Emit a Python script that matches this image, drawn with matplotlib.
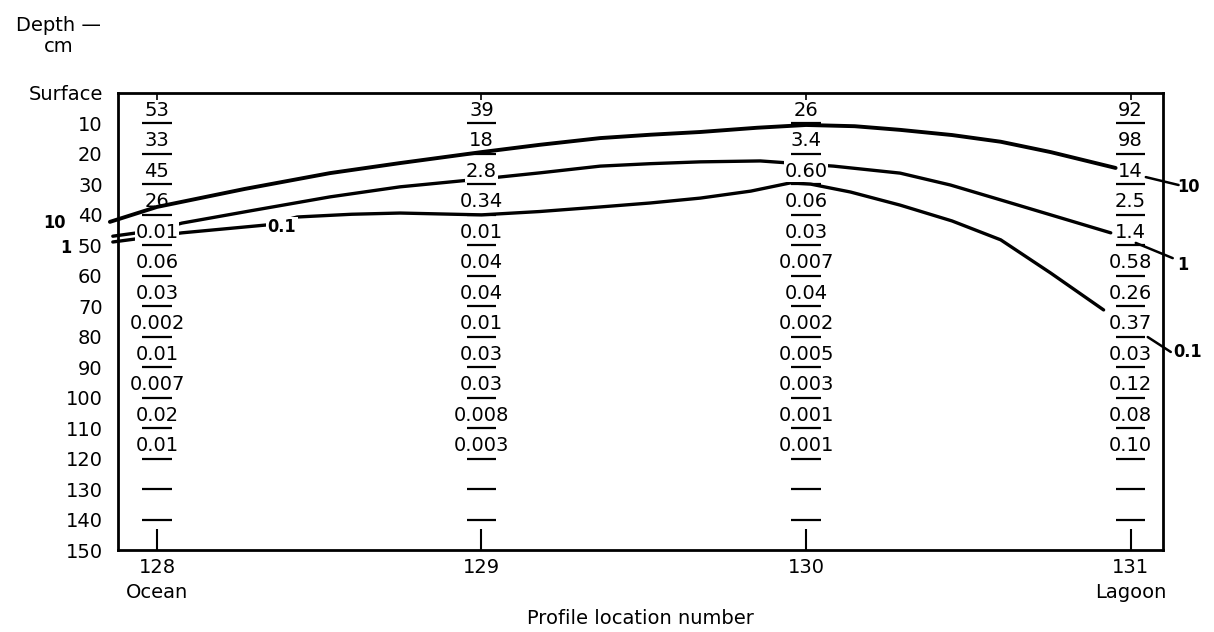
import matplotlib.pyplot as plt

# profile locations (x) and the lower edge of each 10 cm sampling interval
columns = [128, 129, 130, 131]
row_bottoms = [10, 20, 30, 40, 50, 60, 70, 80, 90, 100, 110, 120, 130, 140]

# values written in each 10 cm interval (empty = dash only)
values_128 = ["53", "33", "45", "26", "0.01", "0.06", "0.03", "0.002", "0.01", "0.007", "0.02", "0.01", "", ""]
values_129 = ["39", "18", "2.8", "0.34", "0.01", "0.04", "0.04", "0.01", "0.03", "0.03", "0.008", "0.003", "", ""]
values_130 = ["26", "3.4", "0.60", "0.06", "0.03", "0.007", "0.04", "0.002", "0.005", "0.003", "0.001", "0.001", "", ""]
values_131 = ["92", "98", "14", "2.5", "1.4", "0.58", "0.26", "0.37", "0.03", "0.12", "0.08", "0.10", "", ""]
all_values = [values_128, values_129, values_130, values_131]

# cells whose text interrupts a contour line (column, interval bottom)
masked_cells = [(128, 50), (129, 30), (130, 30)]

# isolines: x = profile location, depth in cm
c10_x = [127.855, 128.0, 128.27, 128.533, 128.749, 129.0, 129.18, 129.366, 129.52, 129.674, 129.85, 130.0,
         130.15, 130.29, 130.45, 130.6, 130.754, 130.954]
c10_depth = [42.3, 37.4, 31.5, 26.3, 23.0, 19.4, 17.0, 14.8, 13.7, 12.8, 11.4, 10.5,
             10.9, 12.1, 13.8, 16.0, 19.4, 24.6]

c1_x = [127.864, 128.0, 128.077, 128.287, 128.533, 128.749, 129.0, 129.181, 129.366, 129.52, 129.674, 129.859,
        130.085, 130.29, 130.445, 130.6, 130.754, 130.939]
c1_depth = [47.0, 45.0, 42.7, 38.7, 34.1, 30.8, 28.2, 26.2, 24.0, 23.2, 22.6, 22.3,
            24.0, 26.3, 30.2, 35.1, 40.0, 45.9]

c01_x = [127.864, 128.077, 128.339, 128.432, 128.6, 128.749, 129.0, 129.18, 129.366, 129.52, 129.674, 129.83,
         129.952, 130.014, 130.137, 130.29, 130.45, 130.6, 130.754, 130.917]
c01_depth = [48.9, 45.9, 43.3, 40.7, 39.8, 39.4, 40.0, 38.9, 37.4, 36.1, 34.5, 32.2,
             29.5, 29.9, 32.5, 36.8, 42.0, 48.2, 59.1, 71.2]

# leader lines from column 131 out to the isoline labels
leader_10_x = [131.047, 131.148]
leader_10_depth = [27.6, 30.2]
leader_1_x = [131.016, 131.13]
leader_1_depth = [49.2, 54.2]
leader_01_x = [131.053, 131.124]
leader_01_depth = [80.1, 85.0]

iso_labels = ["10", "1", "0.1", "10", "1", "0.1"]
iso_label_x = [127.719, 127.738, 128.385, 131.144, 131.144, 131.133]
iso_label_depth = [42.7, 50.9, 44.0, 30.8, 56.5, 85.0]
iso_label_ha = ["right", "right", "center", "left", "left", "left"]

depth_ticks = list(range(0, 151, 10))
depth_labels = ["Surface"] + [str(d) for d in depth_ticks[1:]]
x_labels = ["128\nOcean", "129", "130", "131\nLagoon"]

fig = plt.figure(figsize=(12.14, 6.32), dpi=100)
ax = fig.add_axes([118 / 1214, 82 / 632, 1045 / 1214, 457 / 632])
ax.set_xlim(127.88, 131.10)
ax.set_ylim(150, 0)

for s in ax.spines.values():
    s.set_linewidth(2.0)

# contours
line_kw = dict(color="black", zorder=2, clip_on=False, solid_capstyle="round", solid_joinstyle="round")
ax.plot(c10_x, c10_depth, lw=2.8, **line_kw)
ax.plot(c1_x, c1_depth, lw=2.4, **line_kw)
ax.plot(c01_x, c01_depth, lw=2.4, **line_kw)
for lx, ld in [(leader_10_x, leader_10_depth), (leader_1_x, leader_1_depth), (leader_01_x, leader_01_depth)]:
    ax.plot(lx, ld, lw=1.8, **line_kw)

for lab, x, d, ha in zip(iso_labels, iso_label_x, iso_label_depth, iso_label_ha):
    ax.text(x, d, lab, ha=ha, va="center", fontsize=13, fontweight="bold", fontstretch="condensed",
            clip_on=False, zorder=5,
            bbox=dict(facecolor="white", edgecolor="none", pad=1) if ha == "center" else None)

# values and interval bars
for col, vals in zip(columns, all_values):
    ax.hlines(row_bottoms, col - 0.045, col + 0.045, color="black", lw=1.6, zorder=4)
    for rb, v in zip(row_bottoms, vals):
        if not v:
            continue
        box = None
        if (col, rb) in masked_cells:
            box = dict(facecolor="white", edgecolor="none", pad=0.5)
        ax.text(col, rb - 4.3, v, ha="center", va="center", fontsize=14, zorder=3, bbox=box)

ax.set_yticks(depth_ticks)
ax.set_yticklabels(depth_labels)
ax.tick_params(axis="y", length=0, pad=11, labelsize=14)

ax.set_xticks(columns)
ax.set_xticklabels(x_labels)
ax.tick_params(axis="x", direction="in", length=15, width=1.5, pad=6, labelsize=14)
for t in ax.get_xticklabels():
    t.set_linespacing(1.4)

top = ax.secondary_xaxis("top")
top.set_xticks(columns)
top.set_xticklabels([])
top.tick_params(direction="in", length=5, width=1.2)
top.spines["top"].set_visible(False)

fig.text(640.5 / 1214, 1 - 618 / 632, "Profile location number", ha="center", va="center", fontsize=14)
fig.text(59 / 1214, 1 - 36 / 632, "Depth \u2014\ncm", ha="center", va="center", fontsize=14, linespacing=1.15)

fig.savefig("out.png", dpi=100)
